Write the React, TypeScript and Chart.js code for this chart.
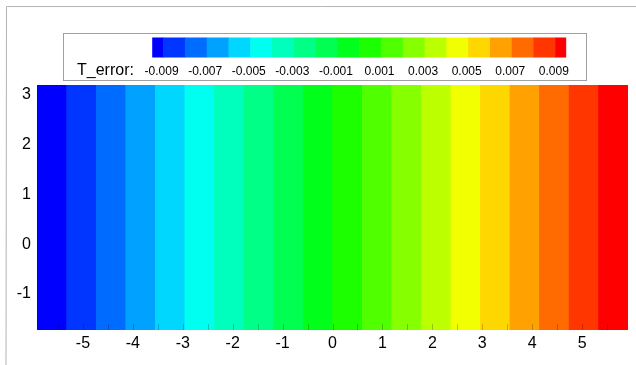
import { useEffect, useRef } from "react";
import { Chart, registerables } from "chart.js";

Chart.register(...registerables);

// Contour band edges along x (band k spans xEdges[k]..xEdges[k+1])
const xEdges = [
  -5.92, -5.328, -4.736, -4.144, -3.552, -2.96, -2.368, -1.776, -1.184, -0.592,
  0, 0.592, 1.184, 1.776, 2.368, 2.96, 3.552, 4.144, 4.736, 5.328, 5.92,
];

// Flood colours, one per band (small rainbow)
const bandColors = [
  "#0000ff", "#0036ff", "#006bff", "#00a1ff", "#00d7ff",
  "#00fff1", "#00ffbc", "#00ff86", "#00ff50", "#00ff1b",
  "#1bff00", "#50ff00", "#86ff00", "#bcff00", "#f1ff00",
  "#ffd700", "#ffa100", "#ff6b00", "#ff3600", "#ff0000",
];

// Contour levels between bands
const levels = [
  -0.009, -0.008, -0.007, -0.006, -0.005, -0.004, -0.003, -0.002, -0.001, 0,
  0.001, 0.002, 0.003, 0.004, 0.005, 0.006, 0.007, 0.008, 0.009,
];
const levelLabels = [
  "-0.009", "-0.007", "-0.005", "-0.003", "-0.001",
  "0.001", "0.003", "0.005", "0.007", "0.009",
];
const legendTitle = "T_error:";

const xRange = [-5.92, 5.92];
const yRange = [-1.724, 3.2];
const xTickStep = 1;
const yTickStep = 1;
const minorStep = 0.5;

const FONT = '"Liberation Sans", Arial, Helvetica, sans-serif';

const framePlugin = {
  id: "frame",
  beforeDraw(chart: any) {
    const { ctx, width, height } = chart;
    ctx.save();
    ctx.fillStyle = "#ffffff";
    ctx.fillRect(0, 0, width, height);
    ctx.strokeStyle = "#b4b4b4";
    ctx.lineWidth = 1;
    ctx.beginPath();
    ctx.moveTo(6, height);
    ctx.lineTo(6.5, 6.5);
    ctx.lineTo(width, 6.5);
    ctx.stroke();
    ctx.restore();
  },
};

const colorbarPlugin = {
  id: "colorbar",
  afterDraw(chart: any) {
    const { ctx } = chart;
    const box = { l: 63.5, t: 33.5, r: 586.5, b: 80.5 };
    const barTop = 37.5;
    const barBottom = 57.5;
    const firstEdge = 163.1;
    const lastEdge = 555.3;
    const step = (lastEdge - firstEdge) / (levels.length - 1);
    const edgeX = (i: number) => firstEdge + i * step;

    ctx.save();
    ctx.fillStyle = "#ffffff";
    ctx.fillRect(box.l, box.t, box.r - box.l, box.b - box.t);
    ctx.strokeStyle = "#a0a0a0";
    ctx.lineWidth = 1;
    ctx.strokeRect(box.l, box.t, box.r - box.l, box.b - box.t);

    // colour cells: half-width end cells, full cells between levels
    for (let k = 0; k < bandColors.length; k++) {
      const x0 = k === 0 ? edgeX(0) - step / 2 : edgeX(k - 1);
      const x1 = k === bandColors.length - 1 ? edgeX(levels.length - 1) + step / 2 : edgeX(k);
      ctx.fillStyle = bandColors[k];
      ctx.fillRect(x0, barTop, x1 - x0 + (k < bandColors.length - 1 ? 0.6 : 0), barBottom - barTop);
    }

    ctx.fillStyle = "#000000";
    ctx.textBaseline = "middle";
    ctx.font = `16px ${FONT}`;
    ctx.textAlign = "left";
    ctx.fillText(legendTitle, 77, 71);

    ctx.font = `12px ${FONT}`;
    ctx.textAlign = "center";
    levelLabels.forEach((lab, j) => {
      ctx.fillText(lab, edgeX(j * 2) - 1.5, 72);
    });
    ctx.restore();
  },
};

const tickMarkPlugin = {
  id: "tickMarks",
  afterDatasetsDraw(chart: any) {
    const { ctx, chartArea, scales } = chart;
    const xs = scales.x;
    ctx.save();
    ctx.strokeStyle = "rgba(0,0,0,0.22)";
    ctx.lineWidth = 1;
    ctx.beginPath();
    for (let v = Math.ceil(xRange[0] / minorStep) * minorStep; v <= xRange[1]; v += minorStep) {
      const px = Math.round(xs.getPixelForValue(v)) + 0.5;
      ctx.moveTo(px, chartArea.bottom);
      ctx.lineTo(px, chartArea.bottom - 6);
    }
    ctx.stroke();
    ctx.restore();
  },
};

export default function App() {
  const canvasRef = useRef<HTMLCanvasElement | null>(null);

  useEffect(() => {
    const canvas = canvasRef.current;
    if (!canvas) return;

    const datasets = bandColors.map((color, k) => ({
      data: [
        // each band overlaps slightly under its left neighbour to avoid seams
        { x: k > 0 ? xEdges[k] - 0.02 : xEdges[k], y: yRange[1] },
        { x: xEdges[k + 1], y: yRange[1] },
      ],
      backgroundColor: color,
      borderColor: "transparent",
      borderWidth: 0,
      pointRadius: 0,
      pointHoverRadius: 0,
      fill: "start",
      tension: 0,
    }));

    const chart = new Chart(canvas, {
      type: "line",
      data: { datasets } as any,
      plugins: [framePlugin, tickMarkPlugin, colorbarPlugin],
      options: {
        responsive: false,
        animation: false,
        events: [],
        layout: { padding: { top: 85, right: 8, left: 0, bottom: 0 } },
        plugins: {
          legend: { display: false },
          tooltip: { enabled: false },
        },
        scales: {
          x: {
            type: "linear",
            min: xRange[0],
            max: xRange[1],
            grid: { display: false, drawTicks: false },
            border: { display: false },
            ticks: {
              stepSize: xTickStep,
              includeBounds: false,
              autoSkip: false,
              maxRotation: 0,
              padding: 4,
              color: "#000000",
              font: { family: FONT, size: 16 },
            },
            afterFit(scale: any) {
              scale.height = 35;
            },
          },
          y: {
            type: "linear",
            min: yRange[0],
            max: yRange[1],
            grid: { display: false, drawTicks: false },
            border: { display: false },
            ticks: {
              stepSize: yTickStep,
              includeBounds: false,
              autoSkip: false,
              padding: 6,
              color: "#000000",
              font: { family: FONT, size: 16 },
            },
            afterFit(scale: any) {
              scale.width = 37;
            },
          },
        },
      } as any,
    });

    return () => chart.destroy();
  }, []);

  return (
    <div style={{ position: "absolute", left: 0, top: 0, width: 636, height: 365, background: "#fff" }}>
      <canvas ref={canvasRef} width={636} height={365} style={{ display: "block", width: 636, height: 365 }} />
    </div>
  );
}
